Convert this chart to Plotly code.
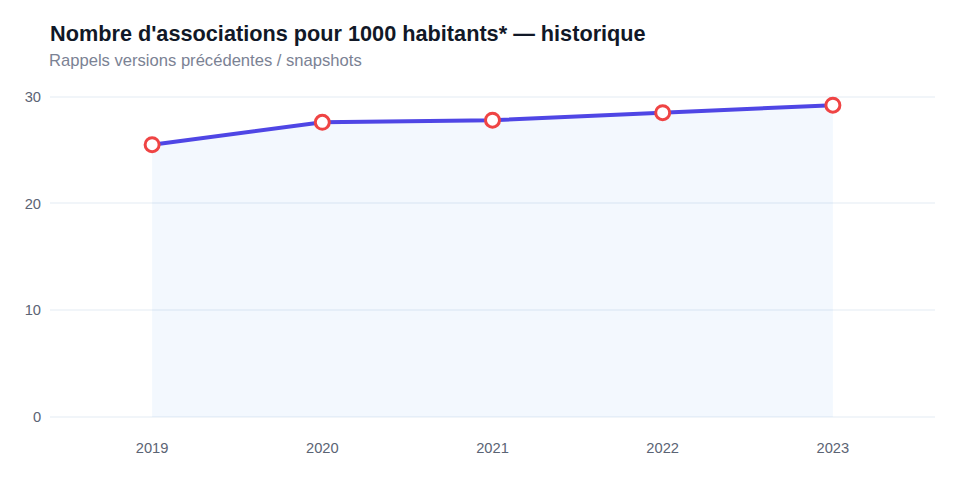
import plotly.graph_objects as go

years = ["2019", "2020", "2021", "2022", "2023"]
values = [25.5, 27.6, 27.8, 28.5, 29.2]
title_text = "Nombre d'associations pour 1000 habitants* — historique"
subtitle_text = "Rappels versions précédentes / snapshots"

fig = go.Figure()
fig.add_trace(go.Scatter(
    x=years, y=values, mode="lines+markers",
    line=dict(color="#4f46e5", width=4),
    fill="tozeroy", fillcolor="rgba(59,130,246,0.06)",
    marker=dict(size=14, color="white", line=dict(color="#ef4444", width=3)),
    hoverinfo="x+y", showlegend=False,
))

H = 480
top, bottom = 86, 417
fig.update_layout(
    width=960, height=480,
    margin=dict(l=50, r=25, t=top, b=H - bottom),
    paper_bgcolor="white", plot_bgcolor="white",
    font=dict(family="Liberation Sans, Arial, sans-serif", color="#475569", size=14.7),
    title=dict(text="<b>" + title_text + "</b>", x=50 / 960, xanchor="left",
               xref="container", yref="container", y=1 - 33 / H, yanchor="middle",
               font=dict(size=21.7, color="#111827")),
    xaxis=dict(type="category", range=[-0.6, 4.6], showgrid=False, zeroline=False,
               showline=False, ticks="outside", ticklen=17, tickcolor="rgba(0,0,0,0)",
               tickfont=dict(size=14.7, color="#5b6474")),
    yaxis=dict(range=[0, 31], tickvals=[0, 10, 20, 30], showgrid=True,
               gridcolor="#f1f5f9", gridwidth=2, zeroline=True, zerolinecolor="#f1f5f9",
               zerolinewidth=2, showline=False, ticks="outside", ticklen=5,
               tickcolor="rgba(0,0,0,0)", tickfont=dict(size=14.7, color="#5b6474")),
    annotations=[dict(text=subtitle_text, xref="paper", yref="paper", x=0, xshift=-3,
                      y=(bottom - 60) / (bottom - top), xanchor="left", yanchor="middle",
                      showarrow=False, font=dict(size=16.6, color="#7b8294"))],
)

fig.write_html("out.html")
